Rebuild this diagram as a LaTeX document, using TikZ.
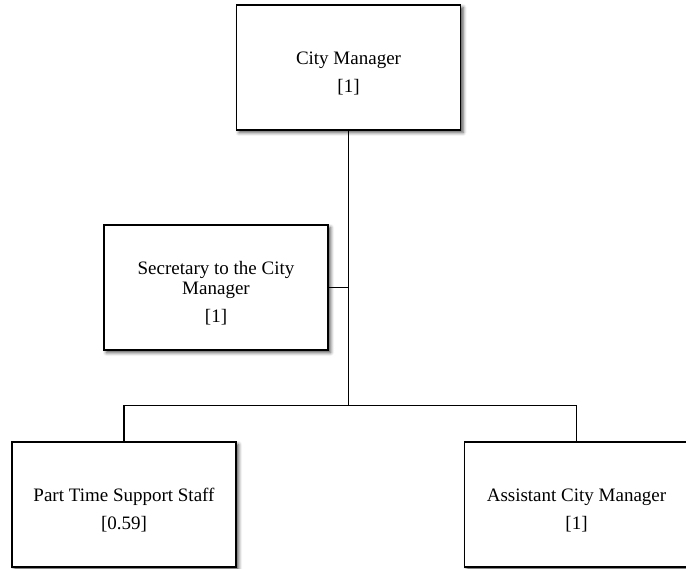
\documentclass[tikz,border=0pt]{standalone}
\usepackage{fontspec}
\setmainfont{Liberation Serif}
\usetikzlibrary{shadows.blur}

\tikzset{
  post/.style={
    draw=black, line width=1.4pt, fill=white,
    minimum width=224pt, minimum height=125pt,
    inner sep=0pt, align=center,
    font=\fontsize{19}{20}\selectfont,
    blur shadow={shadow xshift=2.5pt, shadow yshift=-2.5pt,
                 shadow blur radius=3.5pt, shadow opacity=70}
  },
  orgline/.style={draw=black, line width=1.8pt}
}
% leading strut that pushes each box's text a little below centre
\newcommand{\toppad}{\rule{0pt}{25pt}}

\begin{document}
\begin{tikzpicture}[x=1pt,y=-1pt]
  \path[use as bounding box] (0,0) rectangle (686,569);
  \clip (0,0) rectangle (686,569);

  \node[post] (mgr)  at (348.5,67.5)  {\toppad City Manager\\[8pt][1]};
  \node[post] (sec)  at (216,287.5)   {\toppad Secretary to the City\\Manager\\[8pt][1]};
  \node[post] (part) at (124,504.5)   {\toppad Part Time Support Staff\\[8pt][0.59]};
  \node[post] (asst) at (576.5,504.5) {\toppad Assistant City Manager\\[8pt][1]};

  % reporting lines
  \coordinate (bus) at (348.5,405.5);
  \draw[orgline] (mgr.south) -- (bus);
  \draw[orgline] (sec.east) -- (sec.east -| bus);
  \draw[orgline] (part.north) |- (bus) -| (asst.north);
\end{tikzpicture}
\end{document}
